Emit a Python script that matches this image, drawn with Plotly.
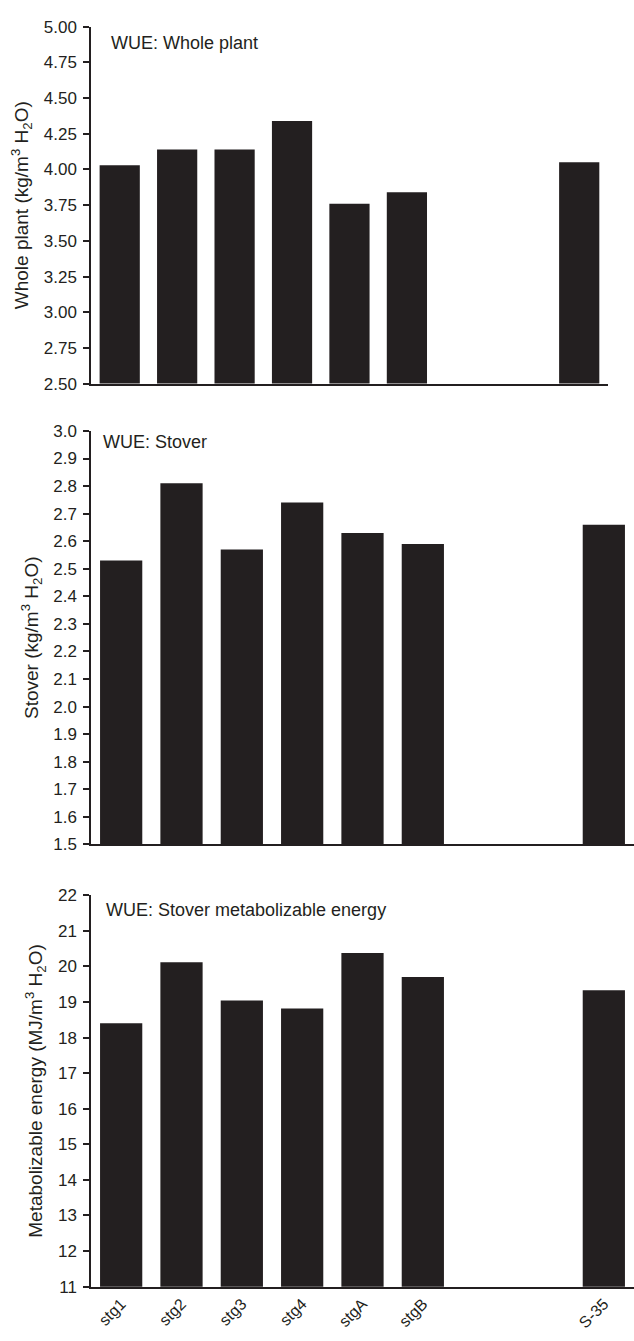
import plotly.graph_objects as go

# ---- data ----
slots = ["stg1", "stg2", "stg3", "stg4", "stgA", "stgB", " ", "  ", "S-35"]
genotypes = ["stg1", "stg2", "stg3", "stg4", "stgA", "stgB", "S-35"]
whole_plant = [4.03, 4.14, 4.14, 4.34, 3.76, 3.84, 4.05]
stover = [2.53, 2.81, 2.57, 2.74, 2.63, 2.59, 2.66]
stover_me = [18.4, 20.12, 19.04, 18.82, 20.38, 19.70, 19.33]

panel_titles = ["WUE: Whole plant", "WUE: Stover", "WUE: Stover metabolizable energy"]
y_titles = [
    "Whole plant (kg/m<sup>3</sup> H<sub>2</sub>O)",
    "Stover (kg/m<sup>3</sup> H<sub>2</sub>O)",
    "Metabolizable energy (MJ/m<sup>3</sup> H<sub>2</sub>O)",
]
y_ranges = [(2.5, 5.0), (1.5, 3.0), (11, 22)]
y_dticks = [0.25, 0.1, 1]
y_formats = [".2f", ".1f", "d"]

W, H = 634, 1341
BAR = "#231f20"
FONT = "Liberation Sans"

fig = go.Figure()
series = [whole_plant, stover, stover_me]
x_domains = [(0.0, 0.952), (0.0, 1.0), (0.0, 1.0)]
y_domains = [(1 - 380 / H, 1 - 18 / H), (1 - 847.5 / H, 1 - 428 / H), (1 - 1296 / H, 1 - 899 / H)]
title_pos = [(0.035, 0.955), (0.018, 0.974), (0.024, 0.962)]

for i in range(3):
    sfx = "" if i == 0 else str(i + 1)
    fig.add_trace(go.Bar(
        x=genotypes, y=series[i], marker=dict(color=BAR, line=dict(width=0)),
        xaxis="x" + sfx, yaxis="y" + sfx, showlegend=False,
    ))
    fig.update_layout(**{
        "xaxis" + sfx: dict(
            domain=x_domains[i], anchor="y" + sfx, type="category",
            categoryorder="array", categoryarray=slots, range=[-0.5, 8.5],
            showline=True, linecolor=BAR, linewidth=1.5, ticks="",
            showticklabels=(i == 2), tickangle=-45,
            tickfont=dict(family=FONT, size=16, color=BAR),
            showgrid=False, zeroline=False, fixedrange=True,
        ),
        "yaxis" + sfx: dict(
            domain=y_domains[i], anchor="x" + sfx, range=list(y_ranges[i]),
            dtick=y_dticks[i], tick0=y_ranges[i][0], tickformat=y_formats[i],
            showline=True, linecolor=BAR, linewidth=1.5,
            ticks="outside", ticklen=6, tickwidth=1.5, tickcolor=BAR,
            ticklabelstandoff=3,
            tickfont=dict(family=FONT, size=17, color=BAR),
            title=dict(text=y_titles[i], font=dict(family=FONT, size=19, color=BAR), standoff=10),
            showgrid=False, zeroline=False, fixedrange=True,
        ),
    })
    fig.add_annotation(
        text=panel_titles[i], xref="x" + sfx + " domain", yref="y" + sfx + " domain",
        x=title_pos[i][0], y=title_pos[i][1], xanchor="left", yanchor="middle",
        showarrow=False, font=dict(family=FONT, size=18, color=BAR),
    )

fig.update_layout(
    width=W, height=H, bargap=0.3,
    margin=dict(l=91, r=0, t=0, b=0),
    plot_bgcolor="white", paper_bgcolor="white",
    font=dict(family=FONT, color=BAR),
)

fig.write_html("out.html")
